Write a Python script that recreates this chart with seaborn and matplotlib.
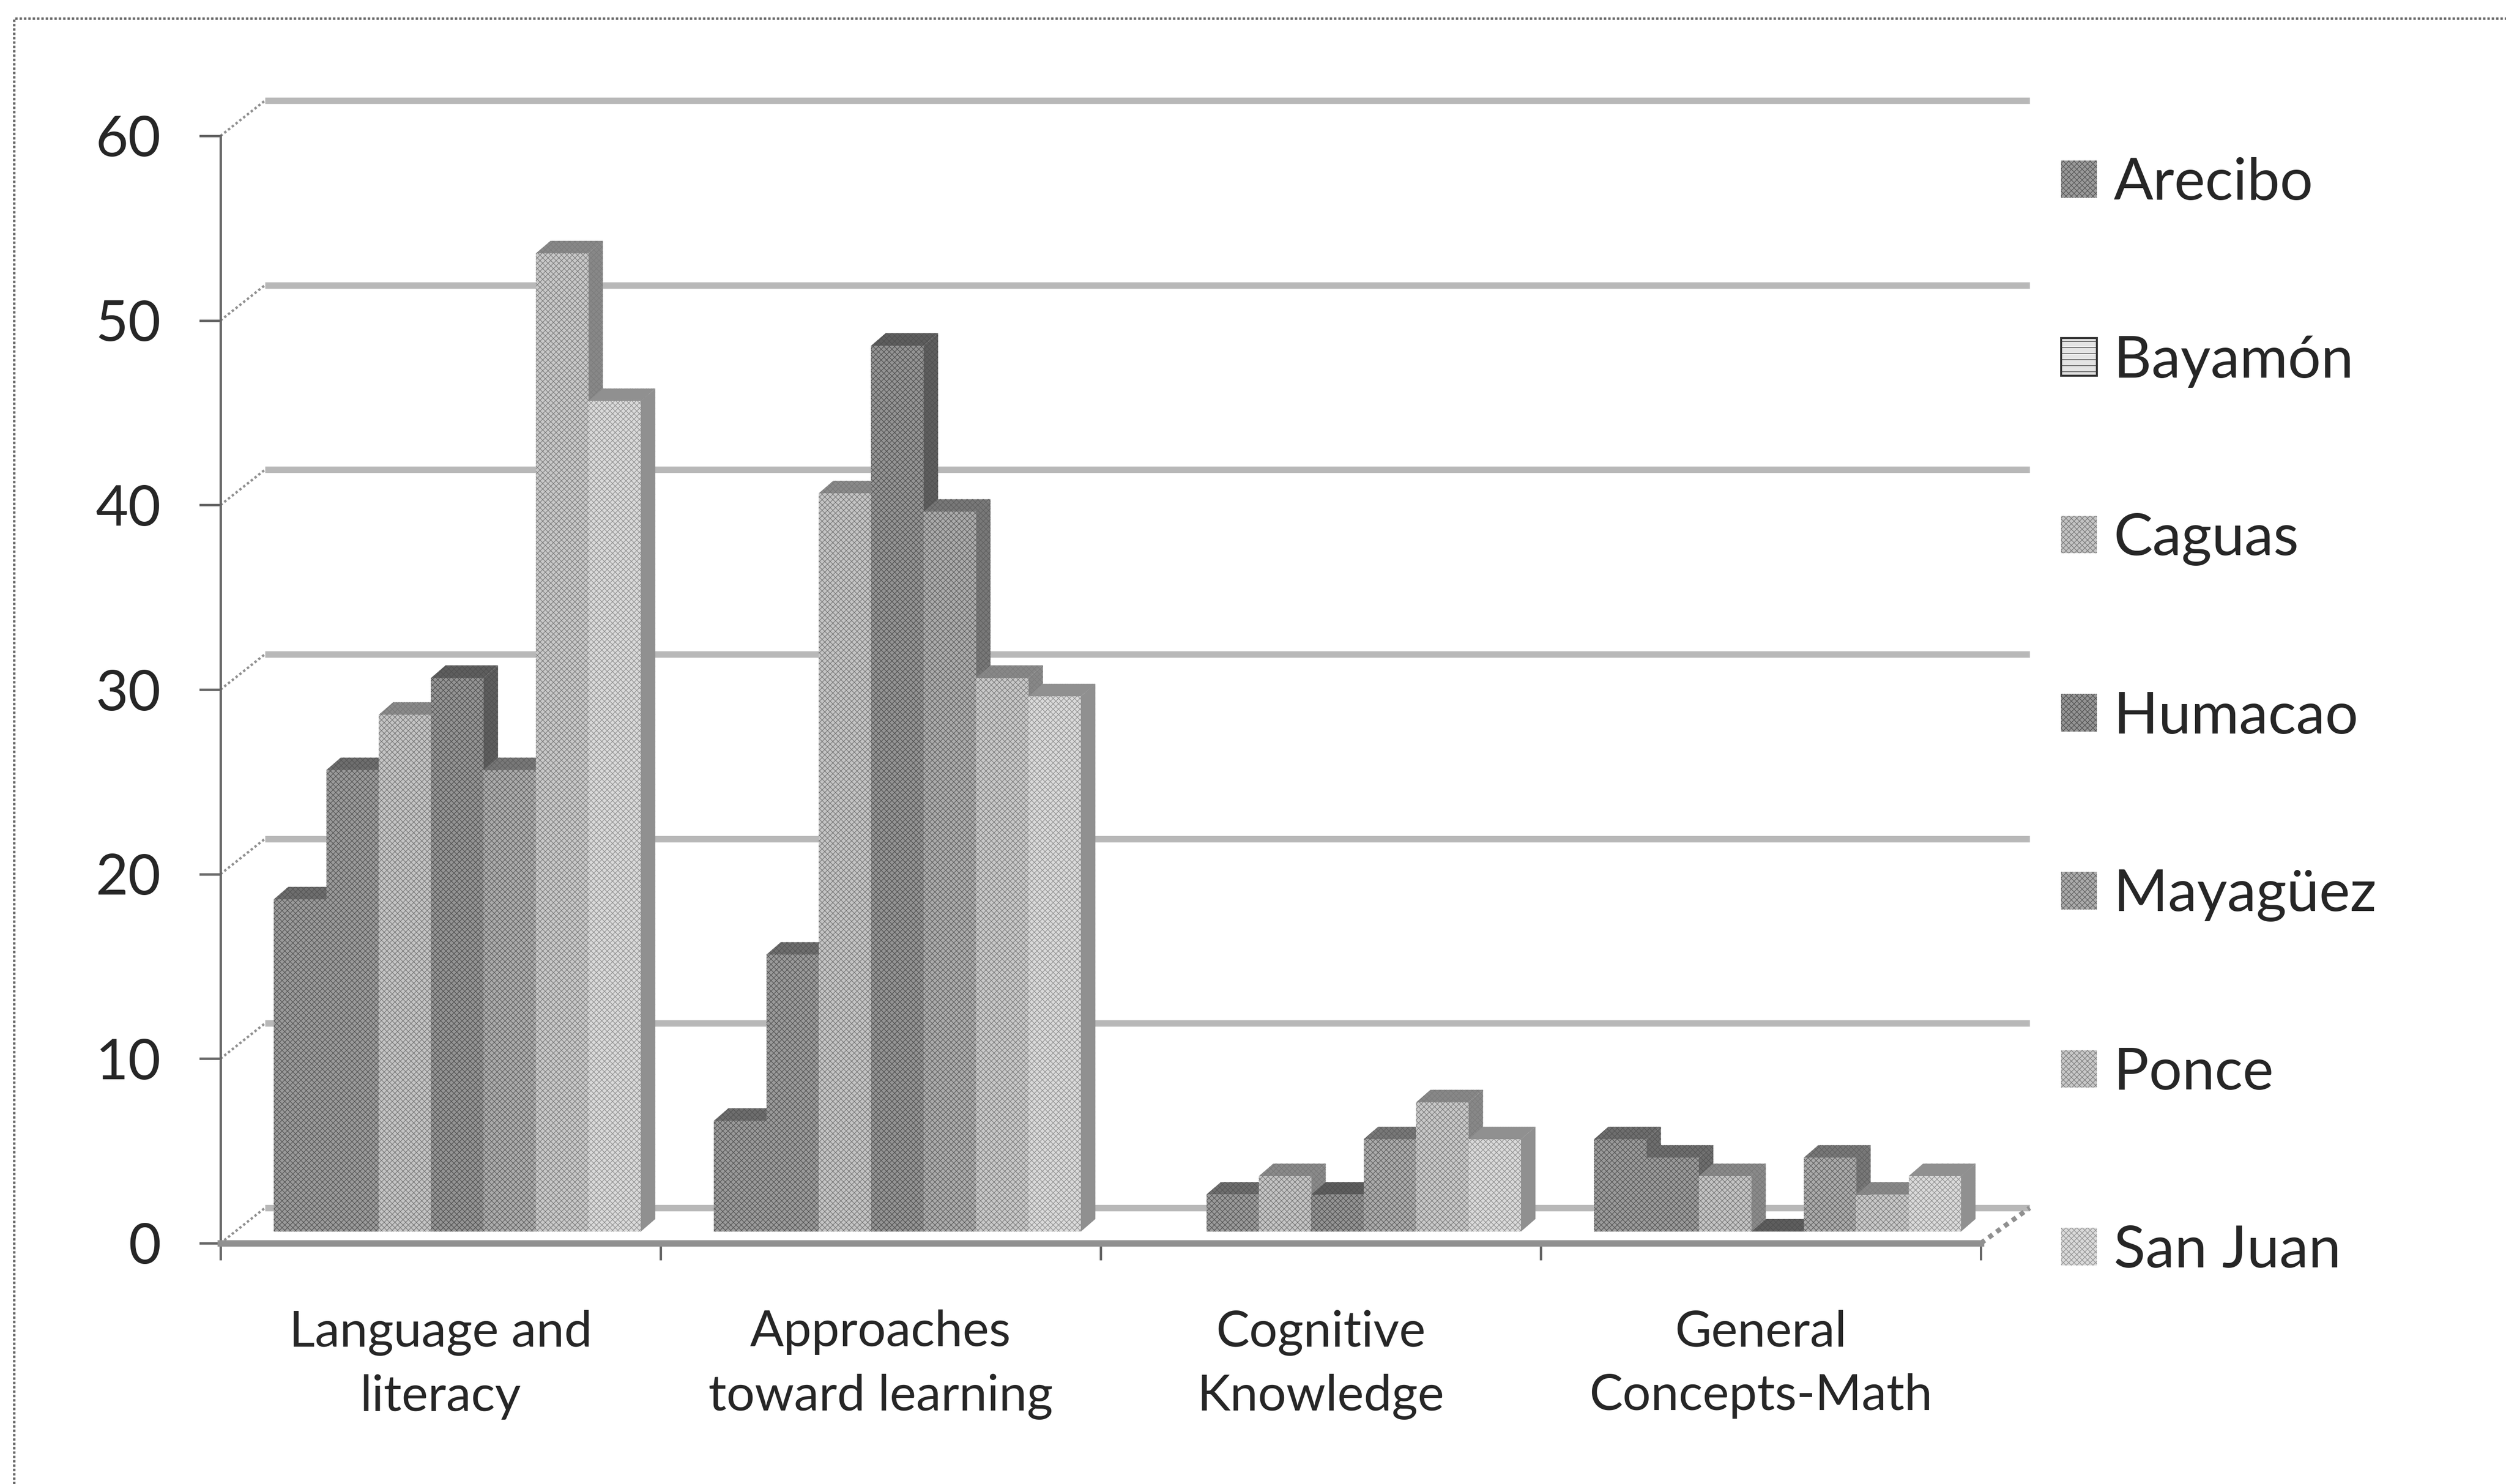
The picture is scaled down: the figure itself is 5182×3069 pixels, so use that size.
import matplotlib
matplotlib.use('Agg')
import matplotlib.pyplot as plt
from matplotlib.lines import Line2D
from matplotlib.patches import Patch, Polygon
import numpy as np
import pandas as pd
import seaborn as sns

categories = ['Language and\nliteracy', 'Approaches\ntoward learning',
              'Cognitive\nKnowledge', 'General\nConcepts-Math']
regions = ['Arecibo', 'Bayamón', 'Caguas', 'Humacao', 'Mayagüez', 'Ponce', 'San Juan']

arecibo = [18, 6, np.nan, 5]
bayamon = [25, 15, 2, 4]
caguas = [28, 40, 3, 3]
humacao = [30, 48, 2, 0]
mayaguez = [25, 39, 5, 4]
ponce = [53, 30, 7, 2]
san_juan = [45, 29, 5, 3]

yticks = [0, 10, 20, 30, 40, 50, 60]

# (front fill, hatch colour, side fill)
styles = ['#9a9a9a', '#9a9a9a', '#c4c4c4', '#949494', '#ababab', '#c8c8c8', '#dadada']
hatches = ['#555555', '#555555', '#777777', '#505050', '#606060', '#7c7c7c', '#909090']
sides = ['#6e6e6e', '#6e6e6e', '#8a8a8a', '#5e5e5e', '#787878', '#888888', '#909090']

W, H = 5182, 3069
sns.set_style('white')
plt.rcParams['font.family'] = ['Lato', 'DejaVu Sans']
plt.rcParams['hatch.linewidth'] = 0.3

fig = plt.figure(figsize=(W / 300, H / 300), dpi=300)
ax = fig.add_axes([456 / W, 1 - 2571 / H, 3640 / W, 2290 / H])

df = pd.DataFrame({'category': np.tile(categories, len(regions)),
                   'region': np.repeat(regions, len(categories)),
                   'value': arecibo + bayamon + caguas + humacao + mayaguez + ponce + san_juan})

sns.barplot(data=df, x='category', y='value', hue='region', hue_order=regions,
            order=categories, width=0.834, gap=0, bottom=0.63, legend=False, ax=ax,
            linewidth=0, saturation=1, palette=styles, zorder=5)

# fake 3d offsets in data units
depth_x = 30 / 910
depth_y = 26 / 38.17
shift = 0.038

for cont, face, hc, side in zip(ax.containers, styles, hatches, sides):
    for bar in cont:
        if np.isnan(bar.get_height()):
            continue
        bar.set_x(bar.get_x() + shift)
        bar.set_facecolor(face)
        bar.set_edgecolor(hc)
        bar.set_hatch('x' * 9)
        x0, x1 = bar.get_x(), bar.get_x() + bar.get_width()
        y0, y1 = bar.get_y(), bar.get_y() + bar.get_height()
        order = bar.get_x() * 0.001
        ax.add_patch(Polygon([(x1, y0), (x1 + depth_x, y0 + depth_y), (x1 + depth_x, y1 + depth_y), (x1, y1)],
                             closed=True, facecolor=side, edgecolor=hc, hatch='x' * 9, linewidth=0, zorder=3 + order))
        ax.add_patch(Polygon([(x0, y1), (x0 + depth_x, y1 + depth_y), (x1 + depth_x, y1 + depth_y), (x1, y1)],
                             closed=True, facecolor=side, edgecolor=hc, hatch='x' * 9, linewidth=0, zorder=3 + order))

ax.set_xlim(-0.5, 3.5)
ax.set_ylim(0, 60)
ax.set_xlabel('')
ax.set_ylabel('')

# back wall
wall_x = 92 / 910
wall_y = 73 / 38.17
wall_end = 101 / 910
grid_col = '#b8b8b8'
for t in yticks:
    ax.plot([-0.5 + wall_x, 3.5 + wall_end], [t + wall_y, t + wall_y], color=grid_col, lw=3.2,
            clip_on=False, zorder=1, solid_capstyle='butt')
    ax.plot([-0.5, -0.5 + wall_x], [t, t + wall_y], color='#909090', lw=1.2, ls=(0, (1, 1)),
            clip_on=False, zorder=1)
ax.plot([3.5, 3.5 + wall_end], [0, wall_y], color='#909090', lw=2.4, ls=(0, (1, 1)), clip_on=False, zorder=1)

for name in ['top', 'right']:
    ax.spines[name].set_visible(False)
ax.spines['left'].set_color('#666666')
ax.spines['left'].set_linewidth(1.2)
ax.spines['left'].set_linestyle((0, (1, 0.8)))
ax.spines['bottom'].set_color('#909090')
ax.spines['bottom'].set_linewidth(3.2)

ax.set_yticks(yticks)
ax.tick_params(axis='y', length=10.5, width=1.2, color='#666666', pad=19, labelsize=28, left=True)
ax.set_xticks(np.arange(-0.5, 4, 1))
ax.set_xticklabels([])
ax.set_xticks(np.arange(4), labels=categories, minor=True)
ax.tick_params(axis='x', which='major', length=8.4, width=1.2, color='#666666', bottom=True)
ax.tick_params(axis='x', which='minor', length=0, pad=33, labelsize=24.8)
for lab in ax.get_xticklabels(minor=True):
    lab.set_linespacing(1.5)

handles = [Patch(facecolor=f, edgecolor=h, hatch='x' * 9, linewidth=0) for f, h in zip(styles, hatches)]
handles[1] = Patch(facecolor='#e4e4e4', edgecolor='#333333', hatch='-' * 4, linewidth=1)
fig.legend(handles, regions, loc='upper left', bbox_to_anchor=(4262 / W, 1 - 325 / H),
           frameon=False, fontsize=29, borderpad=0, borderaxespad=0, handlelength=0.61, handleheight=0.61,
           handletextpad=0.29, labelspacing=2.14)

# outer chart border, left and top only
fig.add_artist(Line2D([29 / W, 29 / W, 1], [0, 1 - 38 / H, 1 - 38 / H], color='#666666', lw=1.2,
                      ls=(0, (1, 0.8)), transform=fig.transFigure))

fig.savefig('out.png', dpi=300)
